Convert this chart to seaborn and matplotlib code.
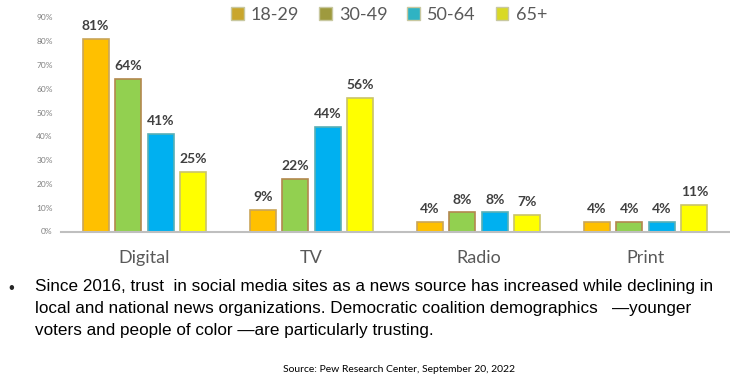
import matplotlib
matplotlib.use("Agg")
import matplotlib.pyplot as plt
import seaborn as sns
import pandas as pd
from matplotlib.patches import Patch

# datos
platforms = ["Digital", "TV", "Radio", "Print"]
age_groups = ["18-29", "30-49", "50-64", "65+"]
age_18_29 = [81, 9, 4, 4]
age_30_49 = [64, 22, 8, 4]
age_50_64 = [41, 44, 8, 4]
age_65_plus = [25, 56, 7, 11]
y_ticks = [0, 10, 20, 30, 40, 50, 60, 70, 80, 90]

bar_colors = ["#FFC000", "#92D050", "#00B0F0", "#FFFF00"]
edge_colors = ["#C9A55A", "#B3874E", "#5AAFB5", "#C9C46A"]
legend_colors = ["#C9A62C", "#9E9A3E", "#2FB3C3", "#D9D925"]

bullet_text = ("Since 2016, trust  in social media sites as a news source has increased while declining in\n"
               "local and national news organizations. Democratic coalition demographics   \u2014younger\n"
               "voters and people of color \u2014are particularly trusting.")
source_text = "Source: Pew Research Center, September 20, 2022"

series = [age_18_29, age_30_49, age_50_64, age_65_plus]
df = pd.DataFrame({
    "platform": [p for _ in age_groups for p in platforms],
    "age": [a for a in age_groups for _ in platforms],
    "value": [v for s in series for v in s],
})

sns.set_style("white")
plt.rcParams["font.family"] = ["Lato", "DejaVu Sans"]

fig = plt.figure(figsize=(7.3, 3.79), dpi=100)
ax = fig.add_axes([61 / 730, 147.5 / 379, 668 / 730, 214 / 379])

sns.barplot(data=df, x="platform", y="value", hue="age", hue_order=age_groups,
            palette=bar_colors, width=0.78, gap=0.2, ax=ax, legend=False,
            linewidth=1.2, saturation=1)

for cont, ec in zip(ax.containers, edge_colors):
    for bar in cont:
        bar.set_edgecolor(ec)
    ax.bar_label(cont, labels=[f"{int(v)}%" for v in cont.datavalues], padding=5,
                 fontsize=10, fontweight="bold", color="#404040")

ax.set_xlim(-0.5, 3.5)
ax.set_ylim(0, 90)
ax.set_yticks(y_ticks)
ax.set_yticklabels([f"{t}%" for t in y_ticks], fontsize=6, color="#808080")
ax.tick_params(axis="y", length=0, pad=6)
ax.tick_params(axis="x", length=0, pad=13, labelsize=13, labelcolor="#595959")
ax.set_xlabel("")
ax.set_ylabel("")
for s in ["top", "right", "left"]:
    ax.spines[s].set_visible(False)
ax.spines["bottom"].set_color("#BFBFBF")
ax.spines["bottom"].set_linewidth(1.5)

handles = [Patch(facecolor=c, edgecolor="#C8C8A0") for c in legend_colors]
fig.legend(handles, age_groups, loc="center", bbox_to_anchor=(389 / 730, 1 - 15 / 379),
           ncol=4, frameon=False, fontsize=13, labelcolor="#595959",
           handlelength=0.7, handleheight=0.7, handletextpad=0.4, columnspacing=1.1)

fig.text(8 / 730, 1 - 288 / 379, "\u2022", fontsize=12, va="center",
         family=["Liberation Sans", "DejaVu Sans"])
fig.text(35 / 730, 1 - 279 / 379, bullet_text, fontsize=12.3, va="top", ha="left",
         linespacing=1.6, family=["Liberation Sans Narrow", "Liberation Sans"],
         color="#000000")
fig.text(399 / 730, 1 - 370 / 379, source_text, fontsize=7.5, ha="center", va="center",
         color="#000000")

fig.savefig("out.png", dpi=100)
